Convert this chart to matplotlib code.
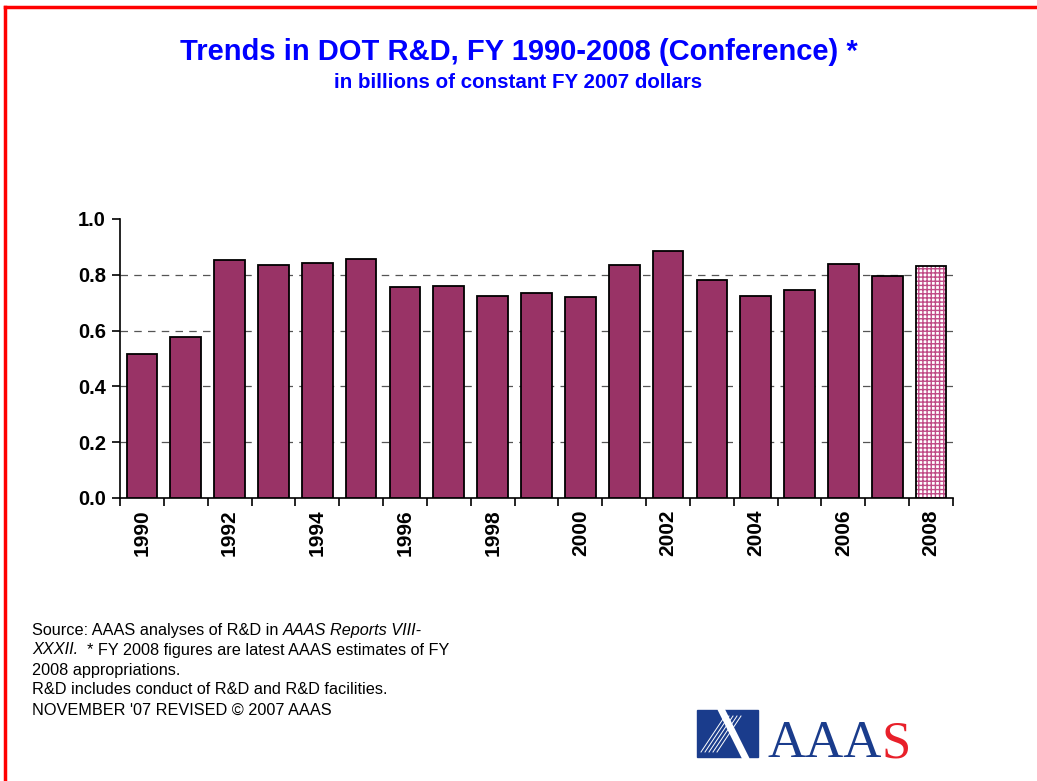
import matplotlib.pyplot as plt
from matplotlib.lines import Line2D
from matplotlib.patches import Rectangle

plt.rcParams['font.family'] = ['Liberation Sans', 'DejaVu Sans']

# Data (billions of constant FY 2007 dollars)
years = list(range(1990, 2009))
values = [0.516, 0.577, 0.853, 0.835, 0.842, 0.857, 0.756, 0.760, 0.724, 0.735,
          0.720, 0.835, 0.885, 0.781, 0.724, 0.746, 0.839, 0.796, 0.832]
tick_labels = [str(y) if y % 2 == 0 else '' for y in years]

fig = plt.figure(figsize=(10.37, 7.81), dpi=100)
ax = fig.add_axes([0.1157, 0.3624, 0.8033, 0.3572])

x = list(range(len(years)))
bar_color = '#993366'
ax.bar(x[:-1], values[:-1], width=0.7, color=bar_color, edgecolor='black', linewidth=1.3, zorder=3)
# last year estimate: hatched
plt.rcParams['hatch.linewidth'] = 1.0
ax.bar(x[-1], values[-1], width=0.7, color='white', edgecolor='#c04a86', hatch='++++', linewidth=0, zorder=3)
ax.bar(x[-1], values[-1], width=0.7, fill=False, edgecolor='black', linewidth=1.3, zorder=4)

ax.set_xlim(-0.5, len(years) - 0.5)
ax.set_ylim(0, 1.0)
ax.set_yticks([0, 0.2, 0.4, 0.6, 0.8, 1.0])
ax.set_yticklabels(['0.0', '0.2', '0.4', '0.6', '0.8', '1.0'], fontsize=14.5, fontweight='bold')
ax.set_xticks([i - 0.5 for i in x] + [len(years) - 0.5])
ax.set_xticklabels([])
ax.set_xticks(x, minor=True)
ax.set_xticklabels(tick_labels, minor=True, rotation=90, fontsize=15, fontweight='bold')
ax.tick_params(axis='x', which='minor', length=0, pad=8)
ax.tick_params(axis='x', which='major', length=6, width=1.2)
ax.tick_params(axis='y', length=6, width=1.2, pad=4)

for yv in [0.2, 0.4, 0.6, 0.8]:
    ax.axhline(yv, color='#555555', linestyle=(0, (6, 5)), linewidth=0.9, zorder=1)

for s in ['top', 'right']:
    ax.spines[s].set_visible(False)
ax.spines['left'].set_linewidth(1.2)
ax.spines['bottom'].set_linewidth(1.2)

fig.text(0.5, 1 - 52 / 781, 'Trends in DOT R&D, FY 1990-2008 (Conference) *', ha='center', va='center',
         fontsize=21, fontweight='bold', color='#0000ff')
fig.text(0.5, 1 - 83 / 781, 'in billions of constant FY 2007 dollars', ha='center', va='center',
         fontsize=14.8, fontweight='bold', color='#0000ff')

# footnote
fn_lines = [
    [('Source: AAAS analyses of R&D in ', 'normal'), ('AAAS Reports VIII-', 'italic')],
    [('XXXII.', 'italic'), ('  * FY 2008 figures are latest AAAS estimates of FY', 'normal')],
    [('2008 appropriations.', 'normal')],
    [('R&D includes conduct of R&D and R&D facilities.', 'normal')],
    [("NOVEMBER '07 REVISED \u00a9 2007 AAAS", 'normal')],
]
fig.canvas.draw()
renderer = fig.canvas.get_renderer()
for i, parts in enumerate(fn_lines):
    xpos = 32 / 1037
    ypos = 1 - (630 + 20 * i) / 781
    for txt, style in parts:
        t = fig.text(xpos, ypos, txt, fontsize=11.7, style=style, ha='left', va='center')
        bb = t.get_window_extent(renderer=renderer)
        xpos += bb.width / fig.bbox.width

# red frame
fig.add_artist(Line2D([5 / 1037, 1.0], [1 - 7 / 781, 1 - 7 / 781], color='red', linewidth=2.5))
fig.add_artist(Line2D([5 / 1037, 5 / 1037], [0, 1 - 7 / 781], color='red', linewidth=2.5))

# AAAS logo
logo_blue = '#1a3c8c'
fig.add_artist(Rectangle((697 / 1037, 1 - 757 / 781), 61 / 1037, 47 / 781, color=logo_blue))
for k in range(5):
    x0 = (701 + k * 4) / 1037
    fig.add_artist(Line2D([x0, x0 + 24 / 1037], [1 - 752 / 781, 1 - 716 / 781], color='white', linewidth=0.7))
fig.add_artist(Line2D([722 / 1037, 745 / 1037], [1 - 711 / 781, 1 - 757 / 781], color='white', linewidth=5))
t_aaa = fig.text(767 / 1037, 1 - 757 / 781, 'AAA', family='Liberation Serif', fontsize=38, color=logo_blue,
                 ha='left', va='baseline')
bb = t_aaa.get_window_extent(renderer=renderer)
fig.text(bb.x1 / fig.bbox.width, 1 - 757 / 781, 'S', family='Liberation Serif', fontsize=38, color='#e8202a',
         ha='left', va='baseline')

fig.savefig('out.png', dpi=100)
